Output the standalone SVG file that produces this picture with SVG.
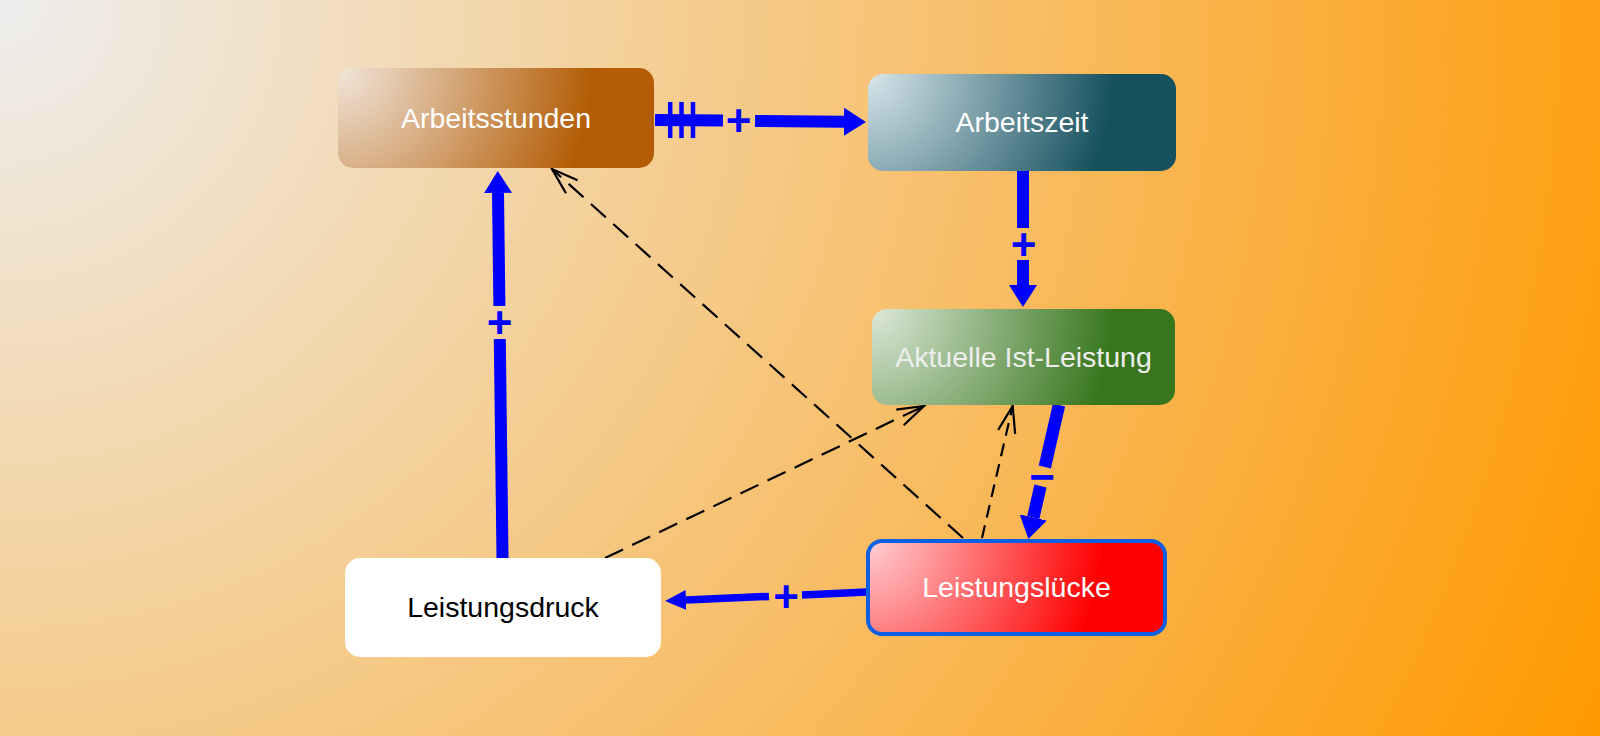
<svg xmlns="http://www.w3.org/2000/svg" width="1600" height="736" viewBox="0 0 1600 736">
<style>
.lbl{font-family:"Liberation Sans",Arial,sans-serif;font-size:28.5px;text-anchor:middle}
.sign{font-family:"Liberation Sans",Arial,sans-serif;font-size:44px;font-weight:bold;fill:#0000ff;text-anchor:middle}
.blue{stroke:#0000ff;fill:none;stroke-linecap:butt}
.dash{stroke:#000;fill:none;stroke-width:2.2}
</style>
<defs>
<radialGradient id="bg" gradientUnits="userSpaceOnUse" cx="0" cy="0" r="1760">
<stop offset="0" stop-color="#eeeeee"/><stop offset="1" stop-color="#ff9900"/>
</radialGradient>
<radialGradient id="gA" gradientUnits="userSpaceOnUse" cx="338" cy="68" r="256">
<stop offset="0" stop-color="#f1e6dc"/><stop offset="1" stop-color="#b35c04"/>
</radialGradient>
<radialGradient id="gZ" gradientUnits="userSpaceOnUse" cx="868" cy="74" r="246">
<stop offset="0" stop-color="#d8e6ec"/><stop offset="1" stop-color="#15505e"/>
</radialGradient>
<radialGradient id="gI" gradientUnits="userSpaceOnUse" cx="872" cy="309" r="242">
<stop offset="0" stop-color="#dde9da"/><stop offset="1" stop-color="#38761d"/>
</radialGradient>
<radialGradient id="gL" gradientUnits="userSpaceOnUse" cx="866" cy="539" r="236">
<stop offset="0" stop-color="#ffd2d6"/><stop offset="1" stop-color="#ff0000"/>
</radialGradient>
<marker id="headL" markerUnits="userSpaceOnUse" viewBox="0 -14 22 28" refX="0" refY="0" markerWidth="22" markerHeight="28" orient="auto">
<path d="M0,-14 L22,0 L0,14 z" fill="#0000ff"/>
</marker>
<marker id="headS" markerUnits="userSpaceOnUse" viewBox="0 -10 21 20" refX="0" refY="0" markerWidth="21" markerHeight="20" orient="auto">
<path d="M0,-10 L21,0 L0,10 z" fill="#0000ff"/>
</marker>
<marker id="open" markerUnits="userSpaceOnUse" viewBox="-30 -12 32 24" refX="0" refY="0" markerWidth="32" markerHeight="24" orient="auto" overflow="visible">
<path d="M-26.6,-8.7 L0,0 L-26.6,8.7" fill="none" stroke="#000" stroke-width="2.2"/>
</marker>
</defs>
<rect x="0" y="0" width="1600" height="736" fill="url(#bg)"/>

<g id="connectors">
  <!-- Arbeitsstunden -> Arbeitszeit -->
  <g id="c-stunden-zeit">
    <line class="blue" x1="655" y1="120" x2="723" y2="120.6" stroke-width="12"/>
    <line class="blue" x1="755" y1="120.9" x2="844" y2="121.8" stroke-width="12" marker-end="url(#headL)"/>
    <line class="blue" x1="670.2" y1="102" x2="670.2" y2="138" stroke-width="4.5"/>
    <line class="blue" x1="681.5" y1="102" x2="681.5" y2="138" stroke-width="4.5"/>
    <line class="blue" x1="693" y1="102" x2="693" y2="138" stroke-width="4.5"/>
    <text class="sign" x="738.5" y="136">+</text>
  </g>
  <!-- Arbeitszeit -> Aktuelle Ist-Leistung -->
  <g id="c-zeit-ist">
    <line class="blue" x1="1023" y1="171" x2="1023" y2="228" stroke-width="12"/>
    <line class="blue" x1="1023" y1="260" x2="1023" y2="285" stroke-width="12" marker-end="url(#headL)"/>
    <text class="sign" x="1023.5" y="260">+</text>
  </g>
  <!-- Leistungsdruck -> Arbeitsstunden -->
  <g id="c-druck-stunden">
    <line class="blue" x1="502.5" y1="558" x2="499.8" y2="339" stroke-width="12"/>
    <line class="blue" x1="499.4" y1="306" x2="498" y2="193" stroke-width="12" marker-end="url(#headL)"/>
    <text class="sign" x="499.5" y="337.5">+</text>
  </g>
  <!-- Leistungsluecke -> Leistungsdruck -->
  <g id="c-luecke-druck">
    <line class="blue" x1="867" y1="592" x2="802" y2="594.9" stroke-width="7.5"/>
    <line class="blue" x1="769" y1="596.4" x2="686" y2="600" stroke-width="7.5" marker-end="url(#headS)"/>
    <text class="sign" x="786" y="612">+</text>
  </g>
  <!-- Aktuelle Ist-Leistung -> Leistungsluecke -->
  <g id="c-ist-luecke">
    <line class="blue" x1="1059" y1="405" x2="1044.8" y2="467" stroke-width="12.5"/>
    <line class="blue" x1="1040.5" y1="486" x2="1033.3" y2="517.5" stroke-width="12.5" marker-end="url(#headL)"/>
    <text class="sign" x="1042" y="492">−</text>
  </g>
  <!-- dashed -->
  <line id="d-luecke-stunden" class="dash" x1="963" y1="538" x2="552" y2="169" stroke-dasharray="20 10" marker-end="url(#open)"/>
  <line id="d-druck-ist" class="dash" x1="605" y1="558" x2="924" y2="406" stroke-dasharray="20 10" marker-end="url(#open)"/>
  <line id="d-luecke-ist" class="dash" x1="982" y1="538" x2="1012.7" y2="406" stroke-dasharray="13 8" marker-end="url(#open)"/>
</g>

<g id="node-arbeitsstunden">
  <rect x="338" y="68" width="316" height="100" rx="15" fill="url(#gA)"/>
  <text class="lbl" x="496" y="127.5" fill="#ffffff">Arbeitsstunden</text>
</g>
<g id="node-arbeitszeit">
  <rect x="868" y="74" width="308" height="97" rx="15" fill="url(#gZ)"/>
  <text class="lbl" x="1022" y="132" fill="#ffffff">Arbeitszeit</text>
</g>
<g id="node-ist">
  <rect x="872" y="309" width="303" height="96" rx="15" fill="url(#gI)"/>
  <text class="lbl" x="1023.5" y="367" fill="#eeeeee">Aktuelle Ist-Leistung</text>
</g>
<g id="node-luecke">
  <rect x="868" y="541" width="297" height="93" rx="14" fill="url(#gL)" stroke="#0d5fe3" stroke-width="4"/>
  <text class="lbl" x="1016.5" y="597" fill="#ffffff">Leistungslücke</text>
</g>
<g id="node-druck">
  <rect x="345" y="558" width="316" height="99" rx="15" fill="#ffffff"/>
  <text class="lbl" x="503" y="617" fill="#000000">Leistungsdruck</text>
</g>
</svg>
